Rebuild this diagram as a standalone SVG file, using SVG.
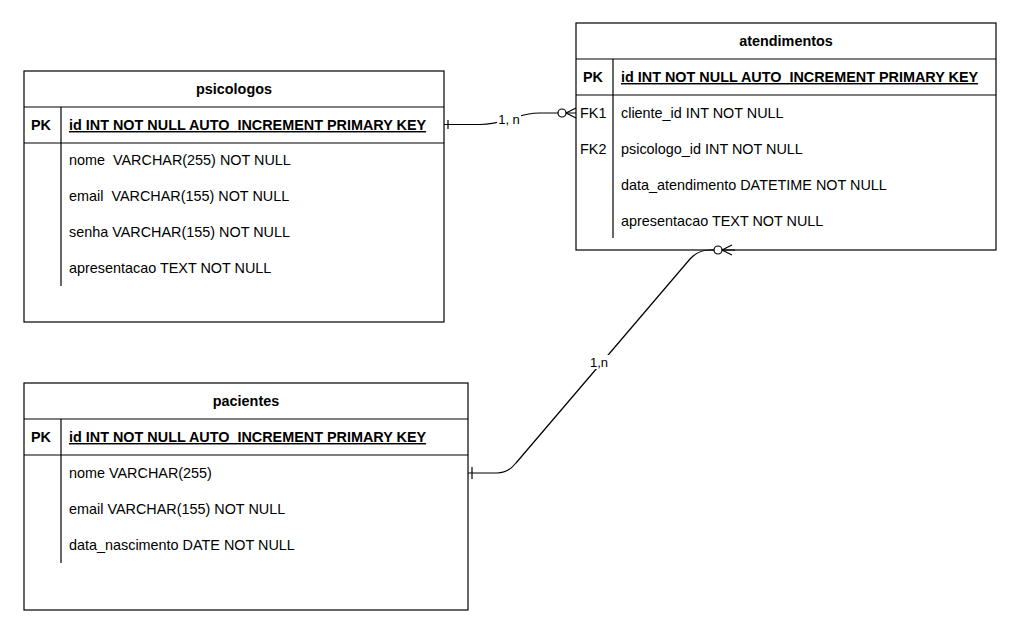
<svg xmlns="http://www.w3.org/2000/svg" width="1020" height="643" viewBox="0 0 1020 643">
<style>
text{font-family:"Liberation Sans",Arial,sans-serif;font-size:14.4px;fill:#000;white-space:pre}
.t{font-weight:bold;text-anchor:middle}
.k{font-weight:bold;text-decoration:underline}
.pk{font-weight:bold}
.box{fill:#fff;stroke:#000;stroke-width:1.2}
.ln{stroke:#000;stroke-width:1.2;fill:none}
.c{stroke:#000;stroke-width:1.2;fill:none}
.lbl{font-size:13px;text-anchor:middle}
</style>
<rect width="1020" height="643" fill="#fff"/>
<g id="psicologos">
<rect class="box" x="24" y="71" width="420" height="251"/>
<line class="ln" x1="24" y1="107" x2="444" y2="107"/>
<line class="ln" x1="24" y1="143" x2="444" y2="143"/>
<line class="ln" x1="61" y1="107" x2="61" y2="286"/>
<text class="t" x="234" y="94">psicologos</text>
<text class="pk" x="31" y="130">PK</text>
<text class="k" x="69" y="130">id INT NOT NULL AUTO  INCREMENT PRIMARY KEY</text>
<text x="69" y="165">nome  VARCHAR(255) NOT NULL</text>
<text x="69" y="201">email  VARCHAR(155) NOT NULL</text>
<text x="69" y="237">senha VARCHAR(155) NOT NULL</text>
<text x="69" y="273">apresentacao TEXT NOT NULL</text>
</g>
<g id="atendimentos">
<rect class="box" x="576" y="23" width="420" height="227"/>
<line class="ln" x1="576" y1="59" x2="996" y2="59"/>
<line class="ln" x1="576" y1="95" x2="996" y2="95"/>
<line class="ln" x1="613" y1="59" x2="613" y2="238"/>
<text class="t" x="786" y="46">atendimentos</text>
<text class="pk" x="583" y="82">PK</text>
<text class="k" x="621" y="82">id INT NOT NULL AUTO  INCREMENT PRIMARY KEY</text>
<text x="580" y="118">FK1</text>
<text x="621" y="118">cliente_id INT NOT NULL</text>
<text x="580" y="154">FK2</text>
<text x="621" y="154">psicologo_id INT NOT NULL</text>
<text x="621" y="190">data_atendimento DATETIME NOT NULL</text>
<text x="621" y="226">apresentacao TEXT NOT NULL</text>
</g>
<g id="pacientes">
<rect class="box" x="24" y="383" width="444" height="227"/>
<line class="ln" x1="24" y1="419" x2="468" y2="419"/>
<line class="ln" x1="24" y1="455" x2="468" y2="455"/>
<line class="ln" x1="61" y1="419" x2="61" y2="563"/>
<text class="t" x="246" y="406">pacientes</text>
<text class="pk" x="31" y="442">PK</text>
<text class="k" x="69" y="442">id INT NOT NULL AUTO  INCREMENT PRIMARY KEY</text>
<text x="69" y="478">nome VARCHAR(255)</text>
<text x="69" y="514">email VARCHAR(155) NOT NULL</text>
<text x="69" y="550">data_nascimento DATE NOT NULL</text>
</g>
<g id="connectors">
<path class="c" d="M444,124.5 L480,124.5 C505,124.5 515,113 540,113 L576,113"/>
<line class="c" x1="448" y1="120" x2="448" y2="129"/>
<circle cx="562" cy="113" r="4" fill="#fff" stroke="#000" stroke-width="1.2"/>
<path class="c" d="M566,113 L576,108 M566,113 L576,118"/>
<rect x="497" y="112" width="24" height="14" fill="#fff"/>
<text class="lbl" x="509" y="124">1, n</text>
<path class="c" d="M468,473 L497,473 Q508,473 516,463 L690,259 Q698,250 710,250 L735,250"/>
<line class="c" x1="472" y1="467" x2="472" y2="479"/>
<circle cx="718" cy="250" r="4" fill="#fff" stroke="#000" stroke-width="1.2"/>
<path class="c" d="M722,250 L732,245 M722,250 L732,255"/>
<rect x="589" y="355" width="20" height="14" fill="#fff"/>
<text class="lbl" x="599" y="367">1,n</text>
</g>
</svg>
